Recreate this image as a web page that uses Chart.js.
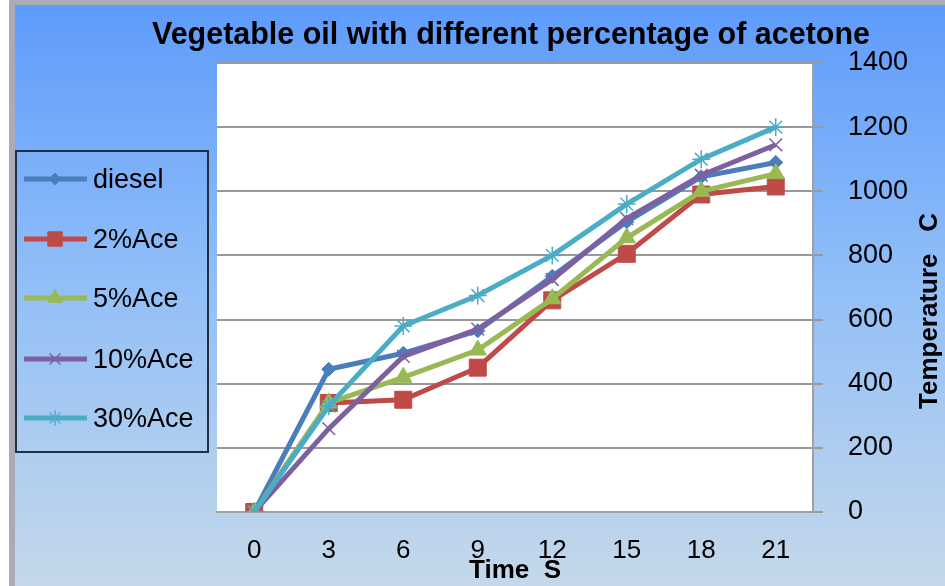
<!DOCTYPE html>
<html>
<head>
<meta charset="utf-8">
<script src="https://cdn.jsdelivr.net/npm/chart.js@4/dist/chart.umd.min.js"></script>
<style>
  html, body { margin: 0; padding: 0; background: #fff; }
  #wrap { width: 945px; height: 586px; position: relative; }
</style>
</head>
<body>
<div id="wrap"><canvas id="chart" width="945" height="586"></canvas></div>
<script>
// categories (time, s)
const times = ['0', '3', '6', '9', '12', '15', '18', '21'];

// series values (temperature, C)
const diesel = [0, 445, 495, 565, 735, 905, 1045, 1090];
const ace2 = [0, 340, 350, 450, 660, 805, 990, 1015];
const ace5 = [0, 340, 420, 505, 665, 855, 1000, 1055];
const ace10 = [0, 260, 485, 570, 725, 915, 1050, 1145];
const ace30 = [0, 330, 580, 675, 800, 960, 1100, 1200];

const seriesNames = ['diesel', '2%Ace', '5%Ace', '10%Ace', '30%Ace'];
const yTicks = [0, 200, 400, 600, 800, 1000, 1200, 1400];

const chartTitle = 'Vegetable oil with different percentage of acetone';
const xTitle = 'Time  S';
const yTitle = 'Temperature   C';

const colors = ['#4a7ebb', '#be4b48', '#98b954', '#7d60a0', '#4bacc6'];
const styles = [
  { pointStyle: 'rectRot', radius: 7, borderWidth: 1 },
  { pointStyle: 'rect', radius: 12, borderWidth: 1 },
  { pointStyle: 'triangle', radius: 10, borderWidth: 1 },
  { pointStyle: 'crossRot', radius: 9, borderWidth: 1.5 },
  { pointStyle: 'star', radius: 9, borderWidth: 1.5 }
];

const FONT = '"Liberation Sans", Arial, sans-serif';

const datasets = [diesel, ace2, ace5, ace10, ace30].map(function (values, i) {
  return {
    label: seriesNames[i],
    data: values,
    borderColor: colors[i],
    backgroundColor: colors[i],
    borderWidth: 5,
    pointStyle: styles[i].pointStyle,
    pointRadius: styles[i].radius,
    pointBackgroundColor: colors[i],
    pointBorderColor: colors[i],
    pointBorderWidth: styles[i].borderWidth,
    tension: 0,
    order: 5 - i
  };
});

// background: frame, blue gradient and white plot area
const backdrop = {
  id: 'backdrop',
  beforeDraw(chart) {
    const ctx = chart.ctx;
    const a = chart.chartArea;
    ctx.save();
    ctx.fillStyle = '#ffffff';
    ctx.fillRect(0, 0, chart.width, chart.height);
    ctx.fillStyle = '#a9adb3';
    ctx.fillRect(9, 0, chart.width - 9, chart.height);
    const g = ctx.createLinearGradient(0, 5, 0, chart.height);
    g.addColorStop(0, '#5e9bfb');
    g.addColorStop(0.5, '#93c0f7');
    g.addColorStop(1, '#c5d8ea');
    ctx.fillStyle = g;
    ctx.fillRect(15, 5, chart.width - 15, chart.height - 5);
    ctx.fillStyle = '#ffffff';
    ctx.fillRect(a.left, a.top, a.right - a.left, a.bottom - a.top);
    ctx.restore();
  }
};

// title, rotated y title and the boxed legend on the left
const extras = {
  id: 'extras',
  afterDraw(chart) {
    const ctx = chart.ctx;
    ctx.save();
    ctx.fillStyle = '#000';
    ctx.textAlign = 'center';
    ctx.textBaseline = 'middle';

    // condensed title: squeeze to the width seen in the picture
    ctx.save();
    ctx.font = 'bold 31px ' + FONT;
    const w = ctx.measureText(chartTitle).width;
    ctx.translate(511, 35);
    ctx.scale(718 / w, 1);
    ctx.fillText(chartTitle, 0, 0);
    ctx.restore();

    ctx.save();
    ctx.translate(930, 311);
    ctx.rotate(-Math.PI / 2);
    ctx.font = 'bold 26px ' + FONT;
    ctx.fillText(yTitle, 0, 0);
    ctx.restore();

    ctx.lineWidth = 2;
    ctx.strokeStyle = '#1f2f44';
    ctx.strokeRect(16, 151, 192, 301);

    const rowY = [179, 239, 298, 359, 418];
    ctx.textAlign = 'left';
    ctx.font = '27px ' + FONT;
    chart.data.datasets.forEach(function (ds, i) {
      const y = rowY[i];
      ctx.strokeStyle = colors[i];
      ctx.lineWidth = 5;
      ctx.beginPath();
      ctx.moveTo(24, y);
      ctx.lineTo(87, y);
      ctx.stroke();
      ctx.fillStyle = colors[i];
      ctx.strokeStyle = colors[i];
      ctx.lineWidth = styles[i].borderWidth;
      Chart.helpers.drawPoint(ctx, {
        pointStyle: styles[i].pointStyle,
        radius: styles[i].radius * 0.85,
        rotation: 0,
        borderWidth: styles[i].borderWidth
      }, 55, y);
      ctx.fillStyle = '#000';
      ctx.fillText(ds.label, 93, y + 2);
    });
    ctx.restore();
  }
};

new Chart(document.getElementById('chart'), {
  type: 'line',
  data: { labels: times, datasets: datasets },
  options: {
    responsive: false,
    animation: false,
    layout: { padding: { left: 217, top: 63, right: 0, bottom: 0 } },
    plugins: {
      legend: { display: false },
      title: { display: false },
      tooltip: { enabled: false }
    },
    scales: {
      x: {
        type: 'category',
        offset: true,
        grid: { display: false, drawTicks: false },
        border: { display: true, color: '#a0a0a0', width: 2 },
        ticks: { color: '#000', font: { family: FONT, size: 26 }, padding: 23, maxRotation: 0 },
        title: {
          display: true,
          text: xTitle,
          color: '#000',
          font: { family: FONT, size: 26, weight: 'bold' },
          padding: { top: 0, bottom: 0 }
        },
        afterFit(scale) { scale.height = 74; }
      },
      y: {
        position: 'right',
        min: 0,
        max: 1400,
        afterBuildTicks(scale) { scale.ticks = yTicks.map(v => ({ value: v })); },
        grid: { color: '#999999', lineWidth: 2, tickLength: 10, drawTicks: true },
        border: { display: true, color: '#a0a0a0', width: 2 },
        ticks: {
          color: '#000',
          font: { family: FONT, size: 27 },
          padding: 25,
          callback: function (v) { return String(v); }
        },
        afterFit(scale) { scale.width = 132; }
      }
    }
  },
  plugins: [backdrop, extras]
});
</script>
</body>
</html>
